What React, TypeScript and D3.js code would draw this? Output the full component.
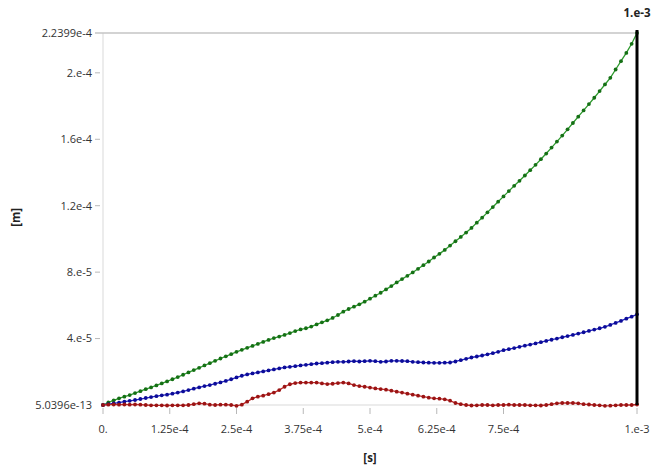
import React from 'react';
import * as d3 from 'd3';

const width = 660;
const height = 471;
const margin = { left: 103, right: 23, top: 33, bottom: 66 };

// time in steps of 1e-5 s, values in 1e-5 m
const times = d3.range(0, 101).map(i => i * 1e-5);

const green = [
  0, 0.15, 0.28, 0.40, 0.50, 0.60, 0.72, 0.83, 0.95, 1.06,
  1.18, 1.30, 1.42, 1.55, 1.68, 1.82, 1.96, 2.10, 2.24, 2.38,
  2.52, 2.66, 2.80, 2.93, 3.06, 3.20, 3.32, 3.44, 3.56, 3.68,
  3.80, 3.92, 4.03, 4.12, 4.22, 4.33, 4.45, 4.55, 4.62, 4.72,
  4.85, 4.98, 5.10, 5.24, 5.42, 5.62, 5.78, 5.92, 6.06, 6.22,
  6.40, 6.58, 6.76, 6.96, 7.16, 7.38, 7.58, 7.78, 7.98, 8.20,
  8.42, 8.64, 8.88, 9.10, 9.34, 9.60, 9.86, 10.12, 10.38, 10.66,
  10.98, 11.28, 11.60, 11.92, 12.24, 12.56, 12.88, 13.20, 13.50, 13.82,
  14.14, 14.46, 14.80, 15.14, 15.50, 15.86, 16.22, 16.60, 16.98, 17.36,
  17.74, 18.12, 18.50, 18.90, 19.30, 19.70, 20.20, 20.70, 21.20, 21.75,
  22.399,
];

const blue = [
  0, 0.05, 0.10, 0.14, 0.20, 0.25, 0.30, 0.36, 0.42, 0.48,
  0.53, 0.58, 0.62, 0.68, 0.75, 0.82, 0.90, 0.98, 1.06, 1.14,
  1.20, 1.28, 1.36, 1.45, 1.55, 1.66, 1.76, 1.84, 1.90, 1.96,
  2.02, 2.08, 2.14, 2.20, 2.26, 2.30, 2.34, 2.38, 2.42, 2.46,
  2.50, 2.52, 2.55, 2.58, 2.60, 2.60, 2.62, 2.64, 2.62, 2.64,
  2.66, 2.64, 2.60, 2.62, 2.66, 2.66, 2.65, 2.64, 2.60, 2.58,
  2.56, 2.55, 2.54, 2.54, 2.55, 2.56, 2.62, 2.70, 2.78, 2.86,
  2.92, 2.98, 3.05, 3.12, 3.20, 3.30, 3.36, 3.43, 3.50, 3.57,
  3.64, 3.71, 3.78, 3.86, 3.93, 4.00, 4.08, 4.15, 4.22, 4.30,
  4.38, 4.46, 4.54, 4.62, 4.71, 4.82, 4.94, 5.06, 5.20, 5.32,
  5.46,
];

const red = [
  0, 0.02, 0.03, 0.02, 0.03, 0.02, 0.03, 0.02, 0.00, -0.02,
  -0.02, -0.02, -0.03, -0.02, -0.02, -0.02, 0.00, 0.05, 0.10, 0.08,
  0.02, 0.00, 0.02, 0.02, 0.00, -0.05, 0.02, 0.20, 0.40, 0.50,
  0.56, 0.65, 0.75, 0.90, 1.10, 1.25, 1.32, 1.35, 1.35, 1.35,
  1.35, 1.30, 1.26, 1.28, 1.32, 1.35, 1.30, 1.20, 1.14, 1.10,
  1.05, 1.00, 0.96, 0.92, 0.86, 0.80, 0.75, 0.68, 0.62, 0.56,
  0.50, 0.44, 0.40, 0.38, 0.34, 0.26, 0.12, 0.05, 0.00, -0.03,
  -0.02, 0.00, 0.00, -0.02, 0.00, 0.00, 0.02, 0.00, 0.00, 0.00,
  -0.02, -0.02, -0.03, 0.00, 0.05, 0.10, 0.12, 0.12, 0.12, 0.10,
  0.05, 0.03, 0.00, -0.02, -0.05, -0.04, -0.02, 0.00, 0.00, 0.00,
  0.03,
];

const series = [
  { name: 'green', values: green, line: '#2e9a2e', dot: '#157015' },
  { name: 'blue', values: blue, line: '#2222c0', dot: '#0c0c98' },
  { name: 'red', values: red, line: '#c02a2a', dot: '#9a1414' },
];

const xTicks = [0, 1.25e-4, 2.5e-4, 3.75e-4, 5e-4, 6.25e-4, 7.5e-4, 1e-3];
const xTickLabels = ['0.', '1.25e-4', '2.5e-4', '3.75e-4', '5.e-4', '6.25e-4', '7.5e-4', '1.e-3'];
const yTicks = [5.0396e-13, 4e-5, 8e-5, 1.2e-4, 1.6e-4, 2e-4, 2.2399e-4];
const yTickLabels = ['5.0396e-13', '4.e-5', '8.e-5', '1.2e-4', '1.6e-4', '2.e-4', '2.2399e-4'];
const cursorTime = 1e-3;
const cursorLabel = '1.e-3';

const x = d3.scaleLinear()
  .domain([0, 1e-3])
  .range([margin.left, width - margin.right]);

const y = d3.scaleLinear()
  .domain([5.0396e-13, 2.2399e-4])
  .range([height - margin.bottom, margin.top]);

const font = "'Open Sans', 'Noto Sans', sans-serif";

export default function App() {
  const line = d3.line<number>()
    .x((d, i) => x(times[i]))
    .y(d => y(d * 1e-5));

  const bottom = height - margin.bottom;

  return (
    <svg width={width} height={height} style={{ position: 'absolute', left: 0, top: 0, background: '#fff' }}
      fontFamily={font}>
      {/* left axis */}
      <line x1={x(0)} x2={x(0)} y1={margin.top} y2={bottom} stroke='#e6e6e6' strokeWidth={1.5} />
      {/* bottom axis */}
      <line x1={x(0)} x2={x(1e-3)} y1={bottom} y2={bottom} stroke='#e6e6e6' strokeWidth={1.5} />
      {/* top max line */}
      <line x1={x(0) - 8} x2={x(1e-3)} y1={y(2.2399e-4)} y2={y(2.2399e-4)} stroke='#c4c4c4' strokeWidth={1.5} />

      {yTicks.map((t, i) => (
        <g key={'y' + i}>
          {i > 0 && i < yTicks.length - 1 &&
            <line x1={x(0) - 8} x2={x(0) - 3} y1={y(t)} y2={y(t)} stroke='#b8b8b8' />}
          <text x={x(0) - 11} y={y(t)} dy='0.35em' textAnchor='end' fontSize={11} fill='#333'>
            {yTickLabels[i]}
          </text>
        </g>
      ))}

      {xTicks.map((t, i) => (
        <g key={'x' + i}>
          <line x1={x(t)} x2={x(t)} y1={bottom + 3} y2={bottom + 9} stroke='#b8b8b8' />
          <text x={x(t)} y={bottom + 28} textAnchor='middle' fontSize={11} fill='#333'>
            {xTickLabels[i]}
          </text>
        </g>
      ))}

      <text x={(x(0) + x(1e-3)) / 2} y={462} textAnchor='middle' fontSize={11.5} fontWeight='bold' fill='#222'>[s]</text>
      <text transform={`translate(20, ${y(1.13e-4)}) rotate(-90)`} textAnchor='middle' fontSize={11.5}
        fontWeight='bold' fill='#222'>[m]</text>

      {series.map(s => (
        <g key={s.name}>
          <path d={line(s.values) || ''} fill='none' stroke={s.line} strokeWidth={1.3} />
          {s.values.map((v, i) => (
            <circle key={i} cx={x(times[i])} cy={y(v * 1e-5)} r={1.9} fill={s.dot} />
          ))}
        </g>
      ))}

      {/* cursor */}
      <line x1={x(cursorTime)} x2={x(cursorTime)} y1={margin.top - 3} y2={bottom} stroke='#000' strokeWidth={3} />
      <text x={x(cursorTime)} y={17} textAnchor='middle' fontSize={11.5} fontWeight='bold' fill='#222'>{cursorLabel}</text>
    </svg>
  );
}
